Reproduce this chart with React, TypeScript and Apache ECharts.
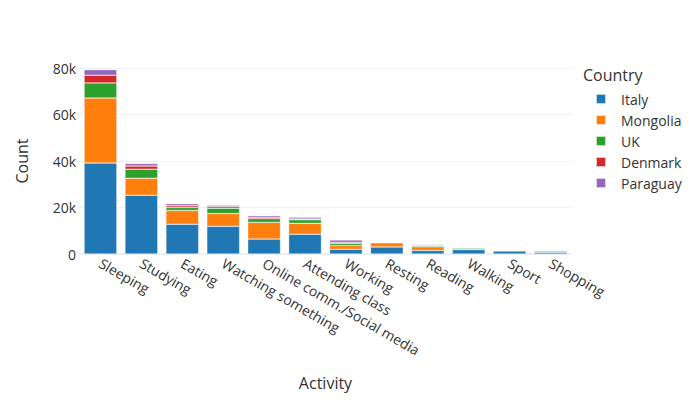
import React, { useEffect, useRef } from "react";
import * as echarts from "echarts";

const categories = [
  "Sleeping",
  "Studying",
  "Eating",
  "Watching something",
  "Online comm./Social media",
  "Attending class",
  "Working",
  "Resting",
  "Reading",
  "Walking",
  "Sport",
  "Shopping",
];
const countries = ["Italy", "Mongolia", "UK", "Denmark", "Paraguay"];
const italy = [39100, 25300, 12800, 11900, 6400, 8500, 2000, 3000, 1500, 1900, 1300, 700];
const mongolia = [28000, 7300, 5900, 5500, 7200, 4700, 1600, 1800, 1600, 400, 300, 600];
const uk = [6500, 3900, 1300, 2300, 1600, 1500, 900, 300, 400, 400, 200, 300];
const denmark = [3300, 1300, 700, 700, 600, 400, 500, 100, 400, 200, 100, 100];
const paraguay = [2400, 1100, 900, 600, 700, 700, 1000, 100, 300, 200, 100, 100];
const colors = ["#1f77b4", "#ff7f0e", "#2ca02c", "#d62728", "#9467bd"];
const yTicks = [0, 20000, 40000, 60000, 80000];

const FONT = "'Open Sans', sans-serif";
const TEXT = "#333";

export default function App() {
  const ref = useRef<HTMLDivElement>(null);
  useEffect(() => {
    if (!ref.current) return;
    const chart = echarts.init(ref.current, null, { renderer: "svg" });
    const seriesData = [italy, mongolia, uk, denmark, paraguay];
    chart.setOption({
      animation: false,
      backgroundColor: "#fff",
      textStyle: { fontFamily: FONT },
      grid: { left: 80, right: 129, top: 68, bottom: 146 },
      legend: {
        orient: "vertical",
        left: 590,
        top: 87,
        itemWidth: 10,
        itemHeight: 10,
        itemGap: 7,
        icon: "rect",
        data: countries,
        textStyle: {
          fontFamily: FONT,
          fontSize: 14,
          color: TEXT,
          lineHeight: 14,
          padding: [0, 0, 0, 10],
        },
      },
      graphic: [
        {
          type: "text",
          left: 583,
          top: 67,
          style: { text: "Country", fontFamily: FONT, fontSize: 16, fill: TEXT },
        },
      ],
      xAxis: {
        type: "category",
        data: categories,
        name: "Activity",
        nameLocation: "middle",
        nameGap: 121,
        nameTextStyle: { fontFamily: FONT, fontSize: 16, color: TEXT },
        axisLine: { show: true, lineStyle: { color: "#ebf0f8", width: 2 } },
        axisTick: { show: false },
        axisLabel: {
          rotate: -30,
          interval: 0,
          margin: 8,
          fontFamily: FONT,
          fontSize: 14,
          color: TEXT,
        },
      },
      yAxis: {
        type: "value",
        min: 0,
        max: 80000,
        interval: 20000,
        name: "Count",
        nameLocation: "middle",
        nameGap: 50,
        nameTextStyle: { fontFamily: FONT, fontSize: 16, color: TEXT },
        axisLine: { show: false },
        axisTick: { show: true, length: 3, lineStyle: { color: "#ebf0f8" } },
        axisLabel: {
          margin: 4,
          fontFamily: FONT,
          fontSize: 14,
          color: TEXT,
          formatter: (v: number) =>
            yTicks.includes(v) ? (v === 0 ? "0" : v / 1000 + "k") : "",
        },
        splitLine: { lineStyle: { color: "#ebf0f8", width: 1 } },
      },
      series: countries.map((name, i) => ({
        name,
        type: "bar",
        stack: "total",
        barCategoryGap: "20%",
        data: seriesData[i],
        itemStyle: {
          color: colors[i],
          borderColor: "rgba(255,255,255,0.7)",
          borderWidth: 0.5,
        },
      })),
    });
    return () => chart.dispose();
  }, []);
  return (
    <div
      ref={ref}
      style={{ position: "fixed", left: 0, top: 0, width: 700, height: 400 }}
    />
  );
}
